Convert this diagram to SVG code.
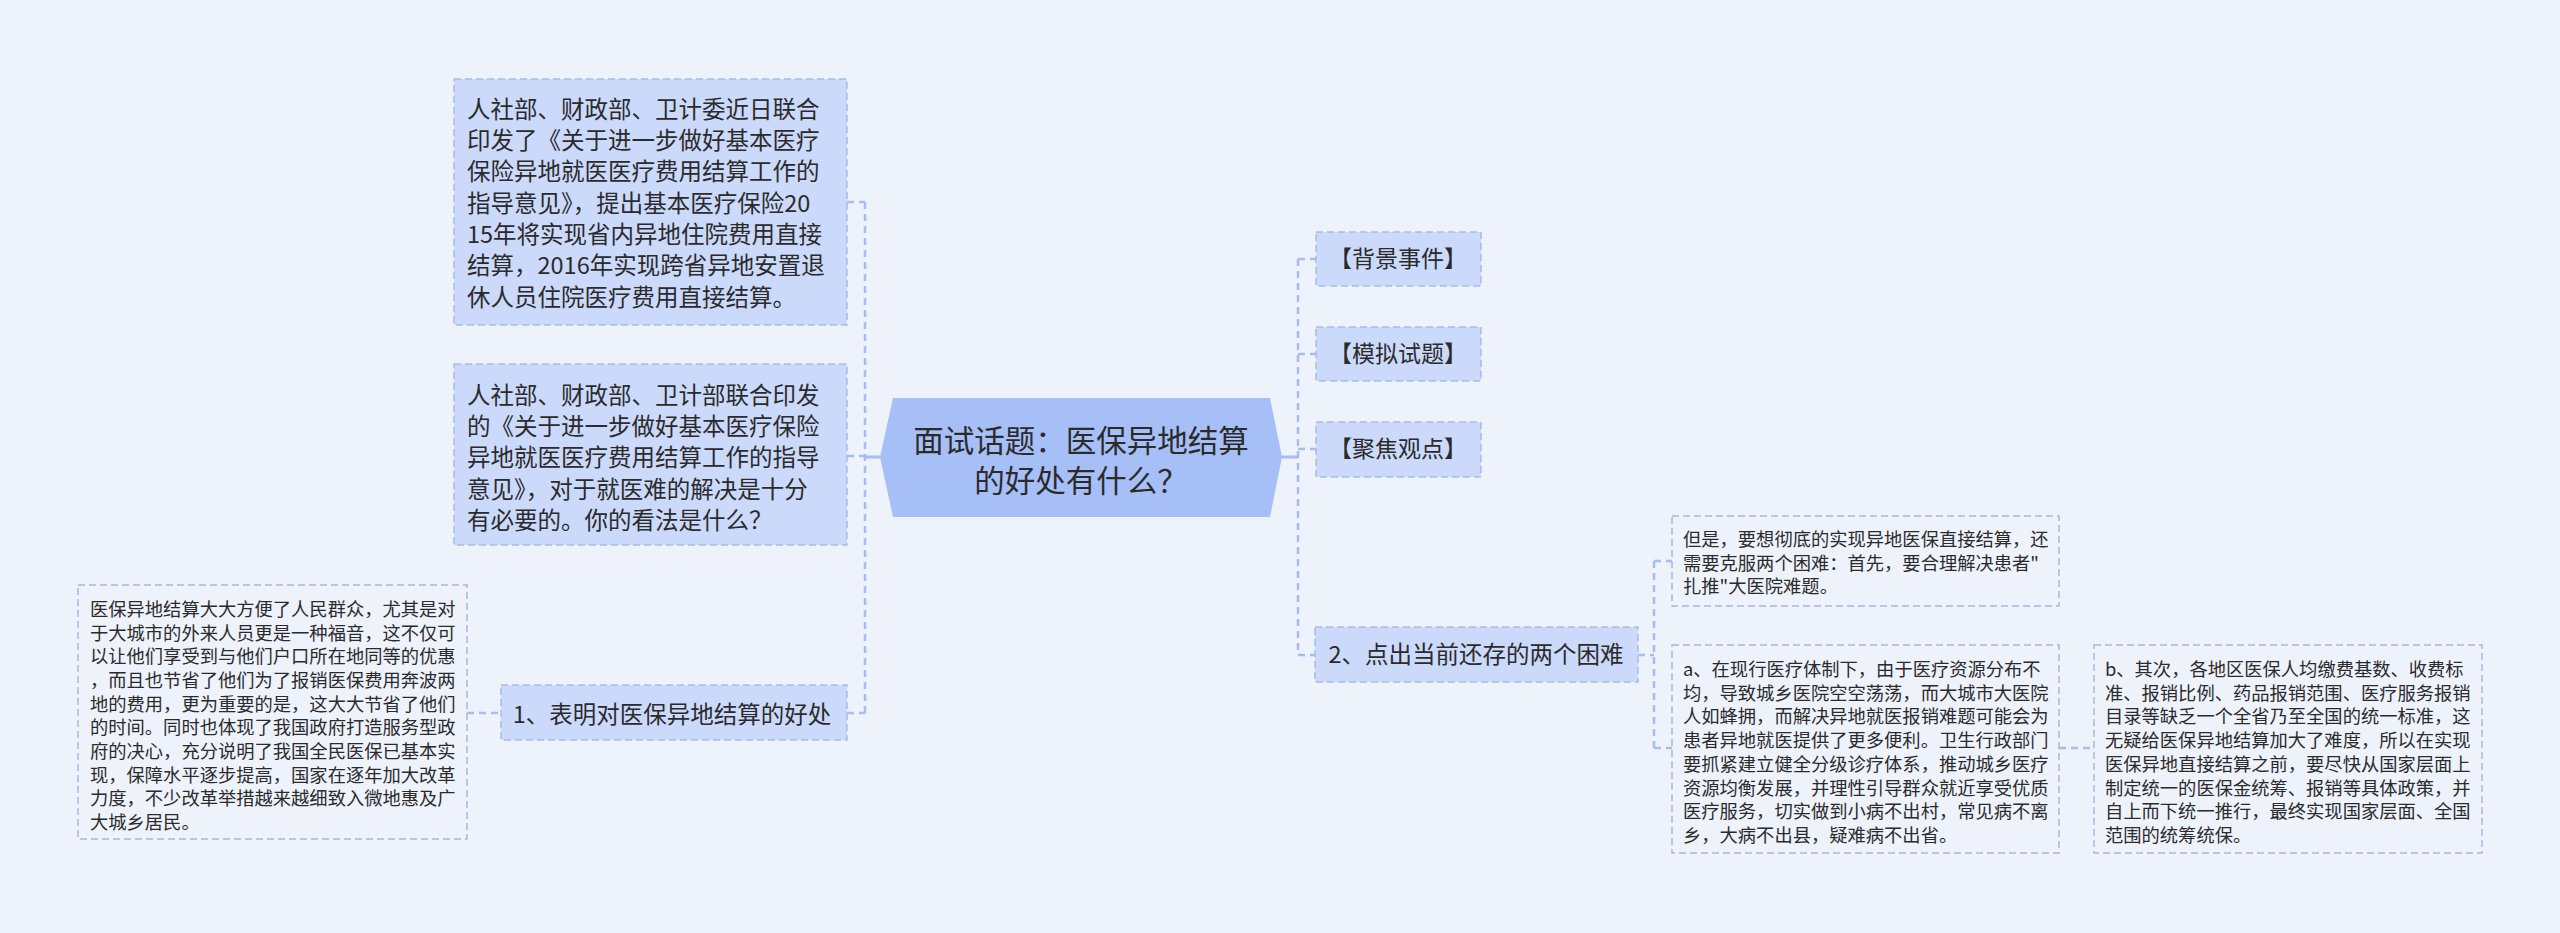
<svg xmlns="http://www.w3.org/2000/svg" width="2560" height="933" viewBox="0 0 2560 933">
<style>
text{font-family:"Noto Sans CJK SC","Noto Sans",sans-serif;fill:#2b2b2b}
.fill{fill:#cbd9fb;stroke:#a9bbe8;stroke-width:1.5;stroke-dasharray:7 4}
.plain{fill:none;stroke:#a9b6d8;stroke-width:1.5;stroke-dasharray:7 4}
.big{font-size:23.5px}
.small{font-size:18.3px}
.lab{font-size:23.5px}
.br{font-size:23px}
.tr{fill:none;stroke:#a5bdf2;stroke-width:2.5;stroke-dasharray:7 5}
.sol{fill:none;stroke:#a5bdf2;stroke-width:3}
</style>
<rect width="2560" height="933" fill="#eef2fb"/>
<g id="connectors">
<path class="sol" d="M880 457H865"/>
<path class="tr" d="M865 202V713"/>
<path class="tr" d="M847 202H865M847 456H865M847 713H865"/>
<path class="tr" d="M467 713H501"/>
<path class="sol" d="M1282 457H1298"/>
<path class="tr" d="M1298 259V655"/>
<path class="tr" d="M1298 259H1316M1298 354H1316M1298 449H1316M1298 655H1315"/>
<path class="tr" d="M1638 655H1654"/>
<path class="tr" d="M1654 561V748"/>
<path class="tr" d="M1654 561H1672M1654 748H1672"/>
<path class="tr" d="M2059 748H2094"/>
</g>
<g id="center">
<polygon points="880,457 893,398 1270,398 1282,457 1270,517 893,517" fill="#a7bff7"/>
<text x="1081" y="452" font-size="30.5" text-anchor="middle">面试话题：医保异地结算</text>
<text x="1081" y="492" font-size="30.5" text-anchor="middle">的好处有什么？</text>
</g>
<g id="n-l1">
<rect class="fill" x="454" y="79" width="393" height="246"/>
<text class="big" x="467"><tspan x="467" y="118">人社部、财政部、卫计委近日联合</tspan><tspan x="467" y="149">印发了《关于进一步做好基本医疗</tspan><tspan x="467" y="180">保险异地就医医疗费用结算工作的</tspan><tspan x="467" y="212">指导意见》，提出基本医疗保险20</tspan><tspan x="467" y="243">15年将实现省内异地住院费用直接</tspan><tspan x="467" y="274">结算，2016年实现跨省异地安置退</tspan><tspan x="467" y="306">休人员住院医疗费用直接结算。</tspan></text>
</g>
<g id="n-l2">
<rect class="fill" x="454" y="364" width="393" height="181"/>
<text class="big"><tspan x="467" y="404">人社部、财政部、卫计部联合印发</tspan><tspan x="467" y="435">的《关于进一步做好基本医疗保险</tspan><tspan x="467" y="466">异地就医医疗费用结算工作的指导</tspan><tspan x="467" y="498">意见》，对于就医难的解决是十分</tspan><tspan x="467" y="529">有必要的。你的看法是什么？</tspan></text>
</g>
<g id="n-l3">
<rect class="fill" x="501" y="685" width="346" height="55"/>
<text class="lab" x="672" y="723" text-anchor="middle">1、表明对医保异地结算的好处</text>
</g>
<g id="n-l4">
<rect class="plain" x="78" y="585" width="389" height="254"/>
<text class="small"><tspan x="90" y="616">医保异地结算大大方便了人民群众，尤其是对</tspan><tspan x="90" y="640">于大城市的外来人员更是一种福音，这不仅可</tspan><tspan x="90" y="663">以让他们享受到与他们户口所在地同等的优惠</tspan><tspan x="90" y="687">，而且也节省了他们为了报销医保费用奔波两</tspan><tspan x="90" y="711">地的费用，更为重要的是，这大大节省了他们</tspan><tspan x="90" y="734">的时间。同时也体现了我国政府打造服务型政</tspan><tspan x="90" y="758">府的决心，充分说明了我国全民医保已基本实</tspan><tspan x="90" y="782">现，保障水平逐步提高，国家在逐年加大改革</tspan><tspan x="90" y="805">力度，不少改革举措越来越细致入微地惠及广</tspan><tspan x="90" y="829">大城乡居民。</tspan></text>
</g>
<g id="n-r1">
<rect class="fill" x="1316" y="232" width="165" height="54"/>
<text class="br" x="1398" y="267" text-anchor="middle">【背景事件】</text>
</g>
<g id="n-r2">
<rect class="fill" x="1316" y="327" width="165" height="54"/>
<text class="br" x="1398" y="362" text-anchor="middle">【模拟试题】</text>
</g>
<g id="n-r3">
<rect class="fill" x="1316" y="422" width="165" height="55"/>
<text class="br" x="1398" y="457" text-anchor="middle">【聚焦观点】</text>
</g>
<g id="n-r4">
<rect class="fill" x="1315" y="627" width="323" height="55"/>
<text class="lab" x="1476" y="663" text-anchor="middle">2、点出当前还存的两个困难</text>
</g>
<g id="n-r5">
<rect class="plain" x="1672" y="516" width="387" height="90"/>
<text class="small"><tspan x="1683" y="546">但是，要想彻底的实现异地医保直接结算，还</tspan><tspan x="1683" y="570">需要克服两个困难：首先，要合理解决患者"</tspan><tspan x="1683" y="593">扎推"大医院难题。</tspan></text>
</g>
<g id="n-r6">
<rect class="plain" x="1672" y="645" width="387" height="208"/>
<text class="small"><tspan x="1683" y="676">a、在现行医疗体制下，由于医疗资源分布不</tspan><tspan x="1683" y="700">均，导致城乡医院空空荡荡，而大城市大医院</tspan><tspan x="1683" y="723">人如蜂拥，而解决异地就医报销难题可能会为</tspan><tspan x="1683" y="747">患者异地就医提供了更多便利。卫生行政部门</tspan><tspan x="1683" y="771">要抓紧建立健全分级诊疗体系，推动城乡医疗</tspan><tspan x="1683" y="795">资源均衡发展，并理性引导群众就近享受优质</tspan><tspan x="1683" y="818">医疗服务，切实做到小病不出村，常见病不离</tspan><tspan x="1683" y="842">乡，大病不出县，疑难病不出省。</tspan></text>
</g>
<g id="n-r7">
<rect class="plain" x="2094" y="645" width="388" height="208"/>
<text class="small"><tspan x="2105" y="676">b、其次，各地区医保人均缴费基数、收费标</tspan><tspan x="2105" y="700">准、报销比例、药品报销范围、医疗服务报销</tspan><tspan x="2105" y="723">目录等缺乏一个全省乃至全国的统一标准，这</tspan><tspan x="2105" y="747">无疑给医保异地结算加大了难度，所以在实现</tspan><tspan x="2105" y="771">医保异地直接结算之前，要尽快从国家层面上</tspan><tspan x="2105" y="795">制定统一的医保金统筹、报销等具体政策，并</tspan><tspan x="2105" y="818">自上而下统一推行，最终实现国家层面、全国</tspan><tspan x="2105" y="842">范围的统筹统保。</tspan></text>
</g>
</svg>
